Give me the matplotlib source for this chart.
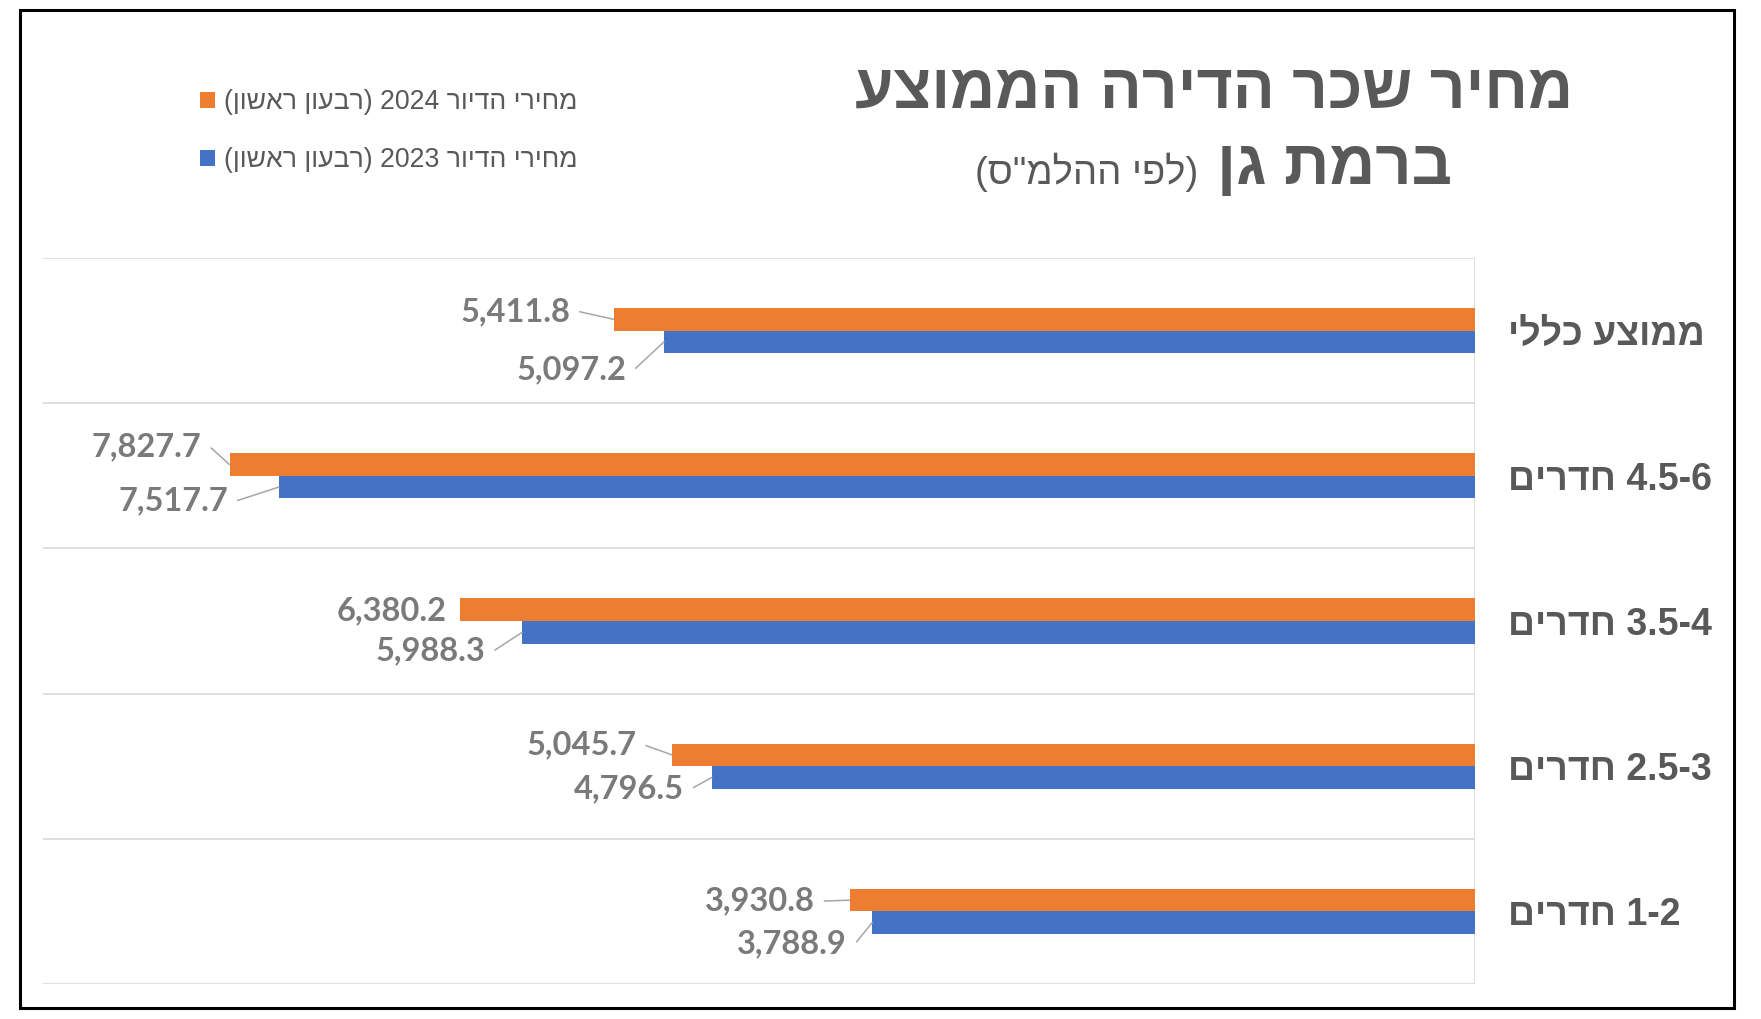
import re
import matplotlib
matplotlib.use("Agg")
import matplotlib.pyplot as plt
from matplotlib.patches import Rectangle
import numpy as np

plt.rcParams['font.family'] = ['Liberation Sans', 'DejaVu Sans']

# ---------------- data ----------------
categories = ["ממוצע כללי", "4.5-6 חדרים", "3.5-4 חדרים", "2.5-3 חדרים", "1-2 חדרים"]
series_2024 = [5411.8, 7827.7, 6380.2, 5045.7, 3930.8]
series_2023 = [5097.2, 7517.7, 5988.3, 4796.5, 3788.9]
label_2024 = "מחירי הדיור 2024 (רבעון ראשון)"
label_2023 = "מחירי הדיור 2023 (רבעון ראשון)"
title_line1 = "מחיר שכר הדירה הממוצע"
title_line2 = "ברמת גן"
title_note = '(לפי ההלמ"ס)'

# label offsets (pixels, from bar end / bar centre; +y = down)
off_2024 = [(-44, -11), (-28, -21), (-13, -2), (-36, -13), (-35, -2)]
off_2023 = [(-38, 25), (-51, 11), (-37, 16), (-28, 8), (-25, 18)]

ORANGE = "#ED7D31"
BLUE = "#4472C4"
TXT = "#595959"
LBL = "#7a7a7a"
GRID = "#d9d9d9"


def vis(s):
    """Convert logical RTL Hebrew string to visual (LTR) order."""
    r = s[::-1]
    r = r.translate(str.maketrans("()", ")("))
    r = re.sub(r"[0-9][0-9.,\-]*[0-9]|[0-9]", lambda m: m.group(0)[::-1], r)
    return r


W, H = 1761, 1019
fig = plt.figure(figsize=(W / 100, H / 100), dpi=100)
fig.patch.set_facecolor("white")


def fx(px):
    return px / W


def fy(py):
    return 1 - py / H


ax = fig.add_axes([fx(43), fy(984), fx(1475) - fx(43), fy(258) - fy(984)])

n = len(categories)
y = np.arange(n)
h = 0.155
b24 = ax.barh(y - h / 2, series_2024, height=h, color=ORANGE, label=vis(label_2024), zorder=3)
b23 = ax.barh(y + h / 2, series_2023, height=h, color=BLUE, label=vis(label_2023), zorder=3)

ax.set_xlim(9000, 0)
ax.set_ylim(n - 0.5, -0.5)

for b in np.arange(n + 1) - 0.5:
    ax.axhline(b, color=GRID, lw=1.2, zorder=1)
ax.axvline(0, color=GRID, lw=1.2, zorder=2)

for s in ax.spines.values():
    s.set_visible(False)
ax.set_xticks([])
ax.yaxis.tick_right()
ax.set_yticks(y)
ax.set_yticklabels([vis(c) for c in categories], fontsize=27, fontweight="bold", color=TXT)
ax.tick_params(axis="y", length=0, pad=24)
for t in ax.get_yticklabels():
    t.set_horizontalalignment("left")


def label(val, yc, off):
    dx, dy = off
    kw = {}
    if abs(dx) > 20:
        kw["arrowprops"] = dict(arrowstyle="-", color="#a6a6a6", lw=1.1,
                                shrinkA=5, shrinkB=0, relpos=(1, 0.5),
                                connectionstyle="arc,angleA=0,armA=8,angleB=0,armB=0,rad=0")
    ax.annotate(f"{val:,.1f}", xy=(val, yc), xytext=(dx, -dy - 3), textcoords="offset pixels",
                ha="right", va="center", fontsize=23.5, fontweight="bold", color=LBL,
                family=["Lato", "DejaVu Sans"], zorder=4, **kw)


for i in range(n):
    label(series_2024[i], y[i] - h / 2, off_2024[i])
    label(series_2023[i], y[i] + h / 2, off_2023[i])

# legend
fig.legend(handles=[b24, b23], loc="center left", bbox_to_anchor=(fx(176), fy(131)),
           frameon=False, fontsize=19.2, handlelength=0.55, handleheight=0.55,
           handletextpad=0.35, labelspacing=1.2, labelcolor=TXT)

# titles
fig.text(fx(1214), fy(92), vis(title_line1), ha="center", va="center",
         fontsize=44.8, fontweight="bold", color=TXT)
fig.text(fx(1452), fy(167), vis(title_line2), ha="right", va="center",
         fontsize=45.5, fontweight="bold", color=TXT)
fig.text(fx(1198), fy(172), vis(title_note), ha="right", va="center",
         fontsize=27.5, color=TXT)

# outer frame
fig.patches.append(Rectangle((fx(20), fy(1008)), fx(1734) - fx(20), fy(10) - fy(1008),
                             transform=fig.transFigure, fill=False, ec="black", lw=2.2))

fig.savefig("out.png", dpi=100, facecolor="white")
